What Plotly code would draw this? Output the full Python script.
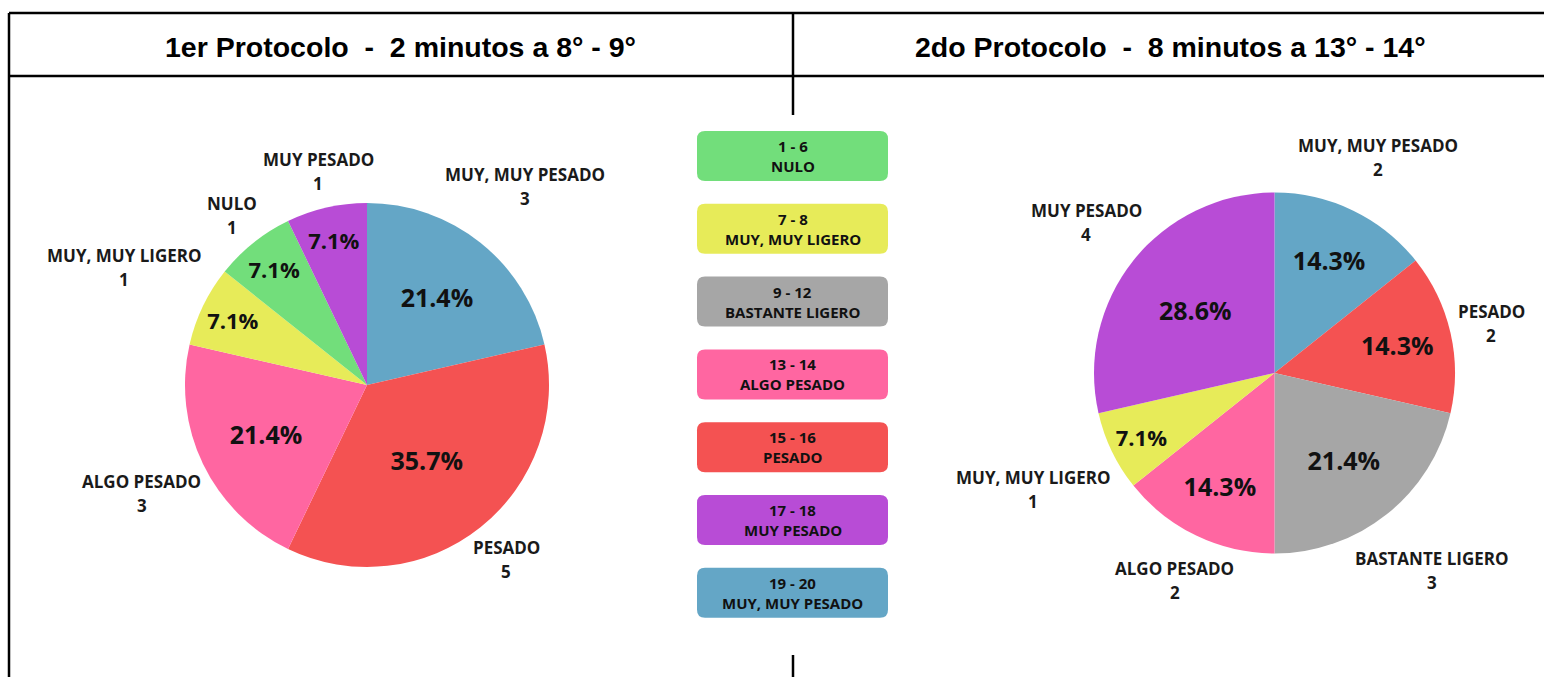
import math
import plotly.graph_objects as go

W, H = 1544, 677

# Borg scale categories (key in the middle column)
categories = ["NULO", "MUY, MUY LIGERO", "BASTANTE LIGERO", "ALGO PESADO",
              "PESADO", "MUY PESADO", "MUY, MUY PESADO"]
ranges = ["1 - 6", "7 - 8", "9 - 12", "13 - 14", "15 - 16", "17 - 18", "19 - 20"]
colors = ["#72DE7B", "#E7EB59", "#A6A6A6", "#FF66A1", "#F45252", "#B84CD6", "#64A6C6"]
color_of = dict(zip(categories, colors))

# Protocol 1 responses
labels_1 = ["MUY, MUY PESADO", "PESADO", "ALGO PESADO", "MUY, MUY LIGERO", "NULO", "MUY PESADO"]
values_1 = [3, 5, 3, 1, 1, 1]

# Protocol 2 responses
labels_2 = ["MUY, MUY PESADO", "PESADO", "BASTANTE LIGERO", "ALGO PESADO", "MUY, MUY LIGERO", "MUY PESADO"]
values_2 = [2, 2, 3, 2, 1, 4]

SEP = "\u00a0\u00a0-\u00a0\u00a0"
titles = ["1er Protocolo" + SEP + "2 minutos a 8° - 9°",
          "2do Protocolo" + SEP + "8 minutos a 13° - 14°"]

FONT = "Open Sans"
HEAD_FONT = "Liberation Sans, Arial, sans-serif"


def X(px):
    return px / W


def Y(py):
    return 1 - py / H


fig = go.Figure()
annotations = []
shapes = []

pies = [
    dict(labels=labels_1, values=values_1, cx=367, cy=385, r=182),
    dict(labels=labels_2, values=values_2, cx=1274.5, cy=373, r=180.5),
]

for p in pies:
    cx, cy, r = p["cx"], p["cy"], p["r"]
    total = sum(p["values"])
    # narrow slices get slightly smaller percentage text
    pct_sizes = [25 if v / total > 0.1 else 22 for v in p["values"]]
    fig.add_trace(go.Pie(
        labels=p["labels"], values=p["values"],
        marker=dict(colors=[color_of[l] for l in p["labels"]], line=dict(width=0)),
        sort=False, direction="clockwise", rotation=0,
        texttemplate="%{percent:.1%}", textposition="inside",
        insidetextorientation="horizontal",
        insidetextfont=dict(family=FONT, size=pct_sizes, color="#111111", weight="bold"),
        domain=dict(x=[X(cx - r), X(cx + r)], y=[Y(cy + r), Y(cy - r)]),
        showlegend=False, hoverinfo="label+value+percent",
    ))
    # outside labels: name + count, placed along each slice's mid angle
    cum = 0
    for lab, val in zip(p["labels"], p["values"]):
        mid = (cum + val / 2) / total * 2 * math.pi
        cum += val
        s, c = math.sin(mid), math.cos(mid)
        w = len(lab) * 11
        h = 40
        d = r + 5 + abs(s) * w / 2 + abs(c) * h / 2
        lx, ly = cx + d * s, cy - d * c
        for txt, dy in ((lab, -12), (str(val), 12)):
            annotations.append(dict(x=X(lx), y=Y(ly + dy), xref="paper", yref="paper",
                                    text=txt, showarrow=False, xanchor="center", yanchor="middle",
                                    font=dict(family=FONT, size=17, color="#1a1a1a", weight="bold")))


def rounded_rect(x0, y0, x1, y1, rad):
    pts = [
        f"M{X(x0 + rad)},{Y(y0)}", f"L{X(x1 - rad)},{Y(y0)}",
        f"Q{X(x1)},{Y(y0)} {X(x1)},{Y(y0 + rad)}",
        f"L{X(x1)},{Y(y1 - rad)}",
        f"Q{X(x1)},{Y(y1)} {X(x1 - rad)},{Y(y1)}",
        f"L{X(x0 + rad)},{Y(y1)}",
        f"Q{X(x0)},{Y(y1)} {X(x0)},{Y(y1 - rad)}",
        f"L{X(x0)},{Y(y0 + rad)}",
        f"Q{X(x0)},{Y(y0)} {X(x0 + rad)},{Y(y0)}", "Z",
    ]
    return " ".join(pts)


# scale key
for i, (cat, rng, col) in enumerate(zip(categories, ranges, colors)):
    top = 131 + i * 72.8
    x0, x1 = 697, 888
    shapes.append(dict(type="path", path=rounded_rect(x0, top, x1, top + 50, 8),
                       xref="paper", yref="paper", fillcolor=col, line=dict(width=0),
                       layer="below"))
    xc = (x0 + x1) / 2
    for txt, dy in ((rng, 15), (cat, 35)):
        annotations.append(dict(x=X(xc), y=Y(top + dy), xref="paper", yref="paper", text=txt,
                                showarrow=False, xanchor="center", yanchor="middle",
                                font=dict(family=FONT, size=15, color="#111111", weight="bold")))

# header cells
for t, xc in zip(titles, [401, 1170]):
    annotations.append(dict(x=X(xc), y=Y(47), xref="paper", yref="paper", text=t,
                            showarrow=False, xanchor="center", yanchor="middle",
                            font=dict(family=HEAD_FONT, size=28.5, color="#000000",
                                      weight="bold")))

line = dict(color="#000000", width=2.5)
for (x0, y0, x1, y1) in [(9, 13, W, 13), (9, 76, W, 76), (9, 13, 9, H),
                         (793, 13, 793, 115), (793, 655, 793, H)]:
    shapes.append(dict(type="line", xref="paper", yref="paper",
                       x0=X(x0), y0=Y(y0), x1=X(x1), y1=Y(y1), line=line))

fig.update_layout(
    width=W, height=H,
    margin=dict(l=0, r=0, t=0, b=0),
    paper_bgcolor="white", plot_bgcolor="white",
    annotations=annotations, shapes=shapes,
)

fig.write_html("out.html")
